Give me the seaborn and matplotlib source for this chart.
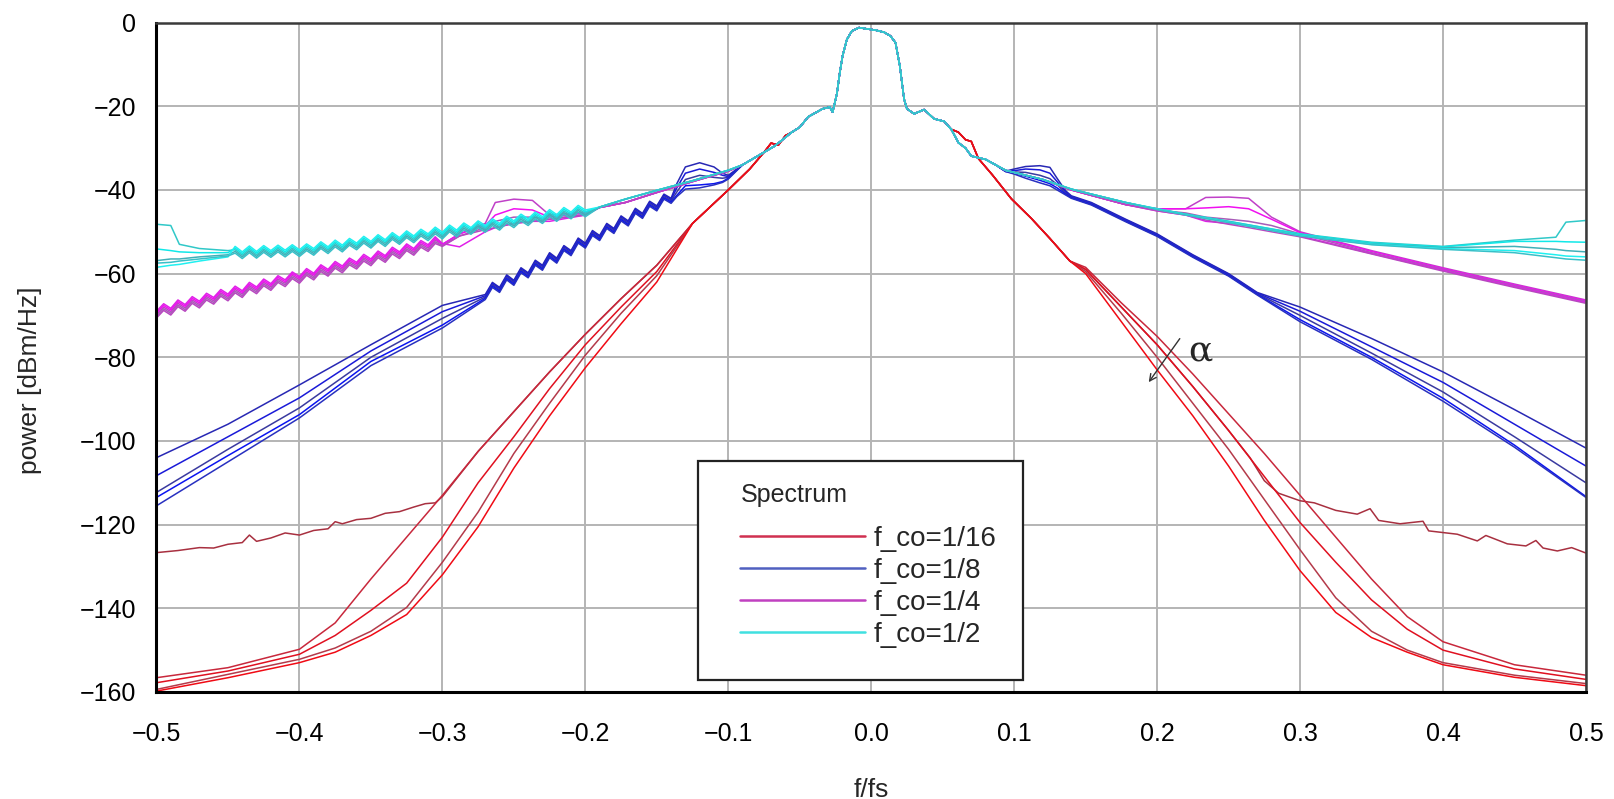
import numpy as np
import pandas as pd
import matplotlib
matplotlib.use("Agg")
import matplotlib.pyplot as plt
import seaborn as sns
from matplotlib.lines import Line2D
from matplotlib.patches import Rectangle
from matplotlib.ticker import MultipleLocator

# ---------------- data ----------------
GROUPS = ["f_co=1/16", "f_co=1/8", "f_co=1/4", "f_co=1/2"]

# main lobe, shared by every curve
CENTER_X = [-0.056, -0.05, -0.044, -0.034, -0.029, -0.027, -0.024, -0.022, -0.02, -0.017,
            -0.0135, -0.0085, -0.003, 0.003, 0.009, 0.0135, 0.017, 0.02, 0.023, 0.025,
            0.03, 0.037, 0.044, 0.051, 0.056]
CENTER_Y = [-26.3, -25.0, -22.5, -20.6, -20.2, -21.4, -17.0, -12.0, -7.9, -4.0,
            -2.0, -1.2, -1.5, -1.8, -2.3, -3.2, -4.8, -10.3, -18.3, -20.6,
            -21.8, -20.8, -23.0, -23.6, -25.5]

# shoulder shared by f_co=1/8, 1/4, 1/2
MID_LX = [-0.09, -0.08, -0.068, -0.062]
MID_LY = [-34.0, -32.0, -29.6, -28.0]
MID_RX = [0.061, 0.066, 0.07, 0.08, 0.087]
MID_RY = [-28.7, -30.0, -31.9, -32.7, -34.0]

# f_co = 1/16 (red): four steep curves + one with a noise floor
RED_LEFT_X = [-0.5, -0.45, -0.4, -0.375, -0.35, -0.325, -0.3, -0.275, -0.25, -0.225, -0.2, -0.175, -0.15]
RED_LEFT_Y = [
    [-156.6, -154.2, -149.8, -143.5, -133.0, -123.0, -113.0, -102.5, -93.0, -83.5, -74.5, -66.0, -58.0],
    [-157.8, -155.0, -151.0, -146.5, -140.5, -134.0, -123.0, -110.0, -99.0, -87.5, -77.0, -68.0, -59.5],
    [-159.4, -155.8, -152.2, -149.5, -145.5, -139.8, -129.0, -117.0, -103.0, -91.0, -79.5, -69.5, -60.5],
    [-159.8, -156.6, -153.0, -150.5, -146.5, -141.5, -132.0, -120.5, -106.5, -94.0, -82.5, -72.0, -62.0],
]
RED_MID_LX = [-0.125, -0.1, -0.085, -0.075, -0.07, -0.065, -0.06]
RED_MID_LY = [-48.0, -40.0, -35.0, -31.0, -28.8, -29.3, -27.0]
RED_MID_RX = [0.061, 0.066, 0.07, 0.075, 0.085, 0.098, 0.112, 0.125, 0.139]
RED_MID_RY = [-26.2, -28.0, -28.4, -32.5, -36.5, -42.1, -46.8, -51.6, -57.0]
RED_RIGHT_X = [0.15, 0.175, 0.2, 0.225, 0.25, 0.275, 0.3, 0.325, 0.35, 0.375, 0.4, 0.45, 0.5]
RED_RIGHT_Y = [
    [-58.5, -67.0, -75.0, -84.0, -93.5, -103.0, -113.0, -123.0, -133.0, -142.0, -148.0, -153.5, -156.0],
    [-59.0, -68.0, -77.0, -87.0, -97.5, -108.5, -119.5, -129.0, -138.0, -145.0, -150.0, -154.5, -157.0],
    [-59.5, -69.5, -80.0, -91.0, -102.0, -114.0, -126.0, -137.5, -145.5, -150.0, -153.0, -156.0, -158.0],
    [-60.0, -71.5, -83.0, -94.0, -106.0, -119.0, -131.0, -141.0, -147.0, -150.5, -153.5, -156.5, -158.5],
]
# the floored curve: its own noisy tails, steep part as curves 0 (left) and 1 (right)
RED_FLOOR_LX = [-0.5, -0.485, -0.47, -0.46, -0.45, -0.44, -0.435, -0.43, -0.42, -0.41, -0.4,
                -0.39, -0.38, -0.375, -0.37, -0.36, -0.35, -0.34, -0.33, -0.32, -0.312, -0.305, -0.3]
RED_FLOOR_LY = [-126.7, -126.2, -125.5, -125.6, -124.7, -124.3, -122.5, -124.0, -123.2, -122.0, -122.5,
                -121.4, -121.0, -119.3, -119.8, -118.8, -118.5, -117.3, -116.9, -115.8, -115.0, -114.8, -113.3]
RED_FLOOR_RX = [0.265, 0.275, 0.285, 0.3, 0.31, 0.325, 0.34, 0.349, 0.355, 0.37, 0.386, 0.39, 0.41,
                0.424, 0.43, 0.445, 0.458, 0.465, 0.47, 0.48, 0.49, 0.5]
RED_FLOOR_RY = [-104.0, -109.5, -112.5, -114.3, -114.8, -116.6, -117.5, -116.2, -119.0, -119.8, -119.2,
                -121.5, -122.3, -123.9, -122.6, -124.6, -125.1, -123.8, -125.6, -126.3, -125.5, -126.8]

# f_co = 1/8 (blue)
BLUE_LEFT_X = [-0.5, -0.45, -0.4, -0.35, -0.3]
BLUE_LEFT_Y = [
    [-104.0, -96.0, -86.6, -77.0, -67.6],
    [-108.3, -99.0, -89.7, -78.5, -69.1],
    [-112.3, -102.0, -92.1, -80.0, -70.7],
    [-113.5, -103.5, -93.7, -81.0, -72.3],
    [-115.5, -105.0, -94.5, -82.0, -73.0],
]
BLUE_SAW_X = [-0.27, -0.265, -0.26, -0.255, -0.25, -0.245, -0.24, -0.235, -0.23, -0.225,
              -0.22, -0.215, -0.21, -0.205, -0.2, -0.195, -0.19, -0.185, -0.18, -0.175,
              -0.17, -0.165, -0.16, -0.155, -0.15, -0.145, -0.14]
BLUE_SAW_Y = [-65.0, -62.1, -63.3, -60.3, -61.6, -58.6, -59.8, -56.8, -58.0, -55.0,
              -56.3, -53.3, -54.5, -51.5, -52.7, -49.7, -50.9, -48.0, -49.2, -46.2,
              -47.4, -44.4, -45.6, -42.7, -43.8, -41.0, -42.0]
BLUE_SPREAD = [0.0, -0.3, -0.6, -0.9, -1.2]
BLUE_BUMP_LX = [-0.136, -0.13, -0.12, -0.11, -0.104, -0.1]
BLUE_BUMP_LY = [
    [-38.5, -34.5, -33.5, -34.5, -36.0, -36.5],
    [-39.5, -36.0, -35.0, -35.8, -36.5, -36.8],
    [-40.5, -37.5, -36.5, -37.0, -37.2, -37.0],
    [-41.3, -39.0, -38.8, -38.5, -38.0, -37.2],
    [-41.6, -39.8, -39.5, -38.8, -38.2, -37.4],
]
BLUE_BUMP_RX = [0.094, 0.1, 0.108, 0.118, 0.125, 0.13, 0.136]
BLUE_BUMP_RY = [
    [-35.5, -35.0, -34.4, -34.2, -34.6, -37.2, -40.2],
    [-35.5, -35.4, -35.0, -35.2, -36.0, -38.0, -40.5],
    [-35.5, -35.7, -35.8, -36.5, -37.3, -38.7, -40.8],
    [-35.6, -36.0, -36.7, -37.7, -38.5, -39.5, -41.0],
    [-35.6, -36.2, -37.2, -38.3, -39.0, -40.0, -41.2],
]
BLUE_MID_RX = [0.14, 0.154, 0.178, 0.2, 0.225, 0.25, 0.27]
BLUE_MID_RY = [-41.4, -43.0, -47.0, -50.5, -55.5, -60.0, -64.5]
BLUE_RIGHT_X = [0.3, 0.35, 0.4, 0.45, 0.5]
BLUE_RIGHT_Y = [
    [-68.0, -75.5, -83.5, -92.5, -101.7],
    [-69.0, -77.5, -86.0, -96.0, -106.0],
    [-70.0, -79.0, -88.3, -99.0, -110.0],
    [-71.0, -80.0, -89.8, -101.0, -113.3],
    [-71.5, -80.5, -90.5, -101.5, -113.5],
]

# f_co = 1/4 (magenta)
MAG_SAW_X = [-0.5, -0.495, -0.49, -0.485, -0.48, -0.475, -0.47, -0.465, -0.46, -0.455,
             -0.45, -0.445, -0.44, -0.435, -0.43, -0.425, -0.42, -0.415, -0.41, -0.405,
             -0.4, -0.395, -0.39, -0.385, -0.38, -0.375, -0.37, -0.365, -0.36, -0.355,
             -0.35, -0.345, -0.34, -0.335, -0.33, -0.325, -0.32, -0.315, -0.31, -0.305]
MAG_SAW_Y = [-69.8, -68.0, -69.1, -67.1, -68.2, -66.3, -67.4, -65.5, -66.5, -64.6,
             -65.7, -63.8, -64.9, -62.9, -64.0, -62.1, -63.2, -61.3, -62.3, -60.4,
             -61.5, -59.6, -60.7, -58.7, -59.8, -57.9, -59.0, -57.1, -58.1, -56.2,
             -57.3, -55.4, -56.5, -54.5, -55.6, -53.7, -54.8, -52.9, -53.9, -52.0]
MAG_SPREAD = [0.0, 0.4, -0.4, 0.8, -0.8]
MAG_BUMP_LX = [-0.3, -0.288, -0.27, -0.263, -0.25, -0.237, -0.225, -0.2]
MAG_BUMP_LY = [
    [-53.0, -50.5, -48.0, -43.0, -42.2, -42.5, -46.0, -45.3],
    [-53.0, -50.5, -48.5, -46.0, -44.5, -44.8, -46.5, -45.5],
    [-53.3, -51.0, -49.0, -47.5, -46.5, -46.5, -47.0, -45.8],
    [-52.8, -53.6, -50.0, -49.0, -48.0, -47.5, -47.5, -46.0],
    [-53.5, -51.0, -49.5, -49.0, -48.0, -47.5, -47.0, -46.0],
]
CM_LX = [-0.19, -0.172, -0.149, -0.125, -0.1]
MAG_CM_LY = [-44.2, -43.0, -40.5, -38.0, -35.5]
CM_RX = [0.094, 0.12, 0.14, 0.154, 0.178]
MAG_CM_RY = [-35.3, -37.5, -40.0, -41.3, -43.5]
MAG_RIGHT_X = [0.2, 0.22, 0.234, 0.25, 0.264, 0.28, 0.3, 0.35, 0.4, 0.45, 0.5]
MAG_RIGHT_Y = [
    [-44.5, -44.5, -41.8, -41.7, -42.0, -46.5, -50.0, -54.5, -58.6, -62.5, -66.3],
    [-44.5, -44.5, -44.3, -44.0, -44.5, -47.0, -50.2, -54.7, -58.8, -62.7, -66.5],
    [-44.8, -45.5, -46.5, -47.0, -47.5, -48.5, -50.5, -55.0, -59.0, -62.9, -66.7],
    [-45.0, -46.0, -47.5, -48.0, -48.5, -49.5, -51.0, -55.2, -59.2, -63.1, -66.9],
    [-45.0, -46.0, -47.2, -48.2, -49.0, -50.0, -51.2, -55.3, -59.4, -63.3, -67.1],
]

# f_co = 1/2 (cyan)
CYAN_LEFT_X = [-0.5, -0.49, -0.484, -0.47, -0.45]
CYAN_LEFT_Y = [
    [-48.2, -48.5, -53.0, -54.0, -54.5],
    [-54.1, -54.5, -54.8, -55.0, -55.0],
    [-56.9, -56.5, -56.5, -56.0, -55.5],
    [-58.5, -58.0, -57.8, -57.0, -56.0],
    [-57.5, -57.3, -57.0, -56.5, -55.8],
]
CYAN_SAW_X = [-0.445, -0.44, -0.435, -0.43, -0.425, -0.42, -0.415, -0.41, -0.405, -0.4,
              -0.395, -0.39, -0.385, -0.38, -0.375, -0.37, -0.365, -0.36, -0.355, -0.35,
              -0.345, -0.34, -0.335, -0.33, -0.325, -0.32, -0.315, -0.31, -0.305, -0.3,
              -0.295, -0.29, -0.285, -0.28, -0.275, -0.27, -0.265, -0.26, -0.255, -0.25,
              -0.245, -0.24, -0.235, -0.23, -0.225, -0.22, -0.215, -0.21, -0.205, -0.2]
CYAN_SAW_Y = [-54.3, -55.6, -54.2, -55.5, -54.1, -55.3, -54.0, -55.2, -53.9, -55.1,
              -53.7, -54.8, -53.2, -54.4, -52.8, -54.0, -52.4, -53.5, -51.9, -53.1,
              -51.5, -52.7, -51.0, -52.2, -50.6, -51.8, -50.2, -51.3, -49.7, -50.9,
              -49.2, -50.4, -48.7, -49.8, -48.2, -49.3, -47.7, -48.8, -47.1, -48.2,
              -46.6, -47.7, -46.1, -47.2, -45.5, -46.7, -45.0, -46.1, -44.5, -45.6]
CYAN_SPREAD = [0.0, 0.4, -0.4, 0.8, -0.8]
CYAN_CM_LY = [-44.1, -42.2, -40.0, -37.8, -35.3]
CYAN_CM_RY = [-35.3, -37.5, -39.8, -41.0, -43.0]
CYAN_RIGHT_X = [0.2, 0.22, 0.25, 0.3, 0.35, 0.4, 0.45, 0.479, 0.486, 0.5]
CYAN_RIGHT_Y = [
    [-44.5, -45.8, -47.5, -50.5, -52.5, -53.5, -52.0, -51.3, -47.7, -47.3],
    [-44.5, -45.8, -47.5, -50.6, -52.7, -53.6, -52.3, -52.3, -52.4, -52.5],
    [-44.6, -45.8, -47.6, -50.8, -52.9, -53.8, -53.5, -54.2, -54.5, -54.8],
    [-44.6, -45.9, -47.7, -50.9, -53.0, -54.0, -54.5, -55.5, -55.8, -56.0],
    [-44.7, -46.0, -47.8, -51.0, -53.1, -54.2, -55.0, -56.2, -56.5, -56.8],
]

X_TICKS = [-0.5, -0.4, -0.3, -0.2, -0.1, 0.0, 0.1, 0.2, 0.3, 0.4, 0.5]
X_TICK_LABELS = ["\u22120.5", "\u22120.4", "\u22120.3", "\u22120.2", "\u22120.1", "0.0",
                 "0.1", "0.2", "0.3", "0.4", "0.5"]
Y_TICKS = [0, -20, -40, -60, -80, -100, -120, -140, -160]

GROUP_COLORS = {
    "f_co=1/16": ["#c8283c", "#e01020", "#b43a4a", "#f00a14", "#a83040"],
    "f_co=1/8": ["#2828b4", "#1a1ad8", "#3a3aa0", "#0a14f0", "#2830c0"],
    "f_co=1/4": ["#c040c8", "#f010f0", "#a85cb8", "#e020e8", "#b848c0"],
    "f_co=1/2": ["#30c8c8", "#10e8e8", "#40b0b8", "#20f0f0", "#38c0c8"],
}
LEGEND_COLORS = ["#d03050", "#5060c0", "#c040c0", "#40e0e0"]


def shift(values, d):
    return [v + d for v in values]


def build_curves():
    """Assemble every curve from its pieces into one long table"""
    rows = []

    def add(group, i, xs, ys):
        assert len(xs) == len(ys)
        for x, y in zip(xs, ys):
            rows.append((group, f"{group}#{i}", x, y))

    red_mid = RED_MID_LX + CENTER_X + RED_MID_RX
    red_mid_y = RED_MID_LY + CENTER_Y + RED_MID_RY
    # floored curve first, so the steep ones sit on top of it
    add(GROUPS[0], 4,
        RED_FLOOR_LX + RED_LEFT_X[7:] + red_mid + RED_RIGHT_X[:5] + RED_FLOOR_RX,
        RED_FLOOR_LY + RED_LEFT_Y[0][7:] + red_mid_y + RED_RIGHT_Y[1][:5] + RED_FLOOR_RY)
    for i in range(4):
        add(GROUPS[0], i, RED_LEFT_X + red_mid + RED_RIGHT_X,
            RED_LEFT_Y[i] + red_mid_y + RED_RIGHT_Y[i])
    for i in range(5):
        add(GROUPS[1], i,
            BLUE_LEFT_X + BLUE_SAW_X + BLUE_BUMP_LX + MID_LX + CENTER_X + MID_RX
            + BLUE_BUMP_RX + BLUE_MID_RX + BLUE_RIGHT_X,
            BLUE_LEFT_Y[i] + shift(BLUE_SAW_Y, BLUE_SPREAD[i]) + BLUE_BUMP_LY[i] + MID_LY
            + CENTER_Y + MID_RY + BLUE_BUMP_RY[i] + shift(BLUE_MID_RY, BLUE_SPREAD[i] / 2)
            + BLUE_RIGHT_Y[i])
    for i in range(5):
        add(GROUPS[2], i,
            MAG_SAW_X + MAG_BUMP_LX + CM_LX + MID_LX + CENTER_X + MID_RX + CM_RX + MAG_RIGHT_X,
            shift(MAG_SAW_Y, MAG_SPREAD[i]) + MAG_BUMP_LY[i] + MAG_CM_LY + MID_LY + CENTER_Y
            + MID_RY + MAG_CM_RY + MAG_RIGHT_Y[i])
    for i in range(5):
        add(GROUPS[3], i,
            CYAN_LEFT_X + CYAN_SAW_X + CM_LX + MID_LX + CENTER_X + MID_RX + CM_RX + CYAN_RIGHT_X,
            CYAN_LEFT_Y[i] + shift(CYAN_SAW_Y, CYAN_SPREAD[i]) + CYAN_CM_LY + MID_LY + CENTER_Y
            + MID_RY + CYAN_CM_RY + CYAN_RIGHT_Y[i])

    return pd.DataFrame(rows, columns=["group", "curve", "f", "power"])


def main():
    sns.set_theme(style="white")
    plt.rcParams["font.family"] = ["Liberation Sans", "DejaVu Sans"]
    plt.rcParams["axes.unicode_minus"] = True

    df = build_curves()
    curve_order = list(dict.fromkeys(df["curve"]))
    palette = {}
    for g in GROUPS:
        for i in range(5):
            palette[f"{g}#{i}"] = GROUP_COLORS[g][i]

    fig = plt.figure(figsize=(16.15, 7.99), dpi=100)
    ax = fig.add_axes([0.0969, 0.134, 0.8851, 0.8377])

    sns.lineplot(data=df, x="f", y="power", hue="curve", hue_order=curve_order,
                 palette=palette, estimator=None, sort=False, legend=False,
                 linewidth=1.1, ax=ax)

    ax.set_xlim(-0.5, 0.5)
    ax.set_ylim(-160, 0)
    ax.set_xticks(X_TICKS)
    ax.set_xticklabels(X_TICK_LABELS)
    ax.set_yticks(Y_TICKS)
    ax.xaxis.set_minor_locator(MultipleLocator(0.02))
    ax.yaxis.set_minor_locator(MultipleLocator(10))
    ax.grid(True, which="major", color="#b4b4b4", lw=1.4)
    ax.set_axisbelow(True)

    for side in ["left", "bottom"]:
        ax.spines[side].set_color("black")
        ax.spines[side].set_linewidth(2.2)
    for side in ["top", "right"]:
        ax.spines[side].set_color("#3a3a3a")
        ax.spines[side].set_linewidth(1.8)

    ax.tick_params(which="major", direction="out", length=13, width=1.4, labelsize=18, colors="black")
    ax.tick_params(which="minor", direction="out", length=6.5, width=1.4, colors="black")
    ax.tick_params(axis="x", which="major", pad=9)
    ax.tick_params(axis="y", which="major", pad=1.5)
    ax.tick_params(top=False, right=False, which="both")

    ax.set_xlabel("f/fs", fontsize=19)
    ax.set_ylabel("power [dBm/Hz]", fontsize=19)
    ax.xaxis.set_label_coords(0.5, -0.128)
    ax.yaxis.set_label_coords(-0.080, 0.465)

    # legend box with its title and entries
    ax.add_patch(Rectangle((0.379, 0.018), 0.227, 0.327, transform=ax.transAxes,
                           facecolor="white", edgecolor="#222222", lw=1.6, zorder=4))
    ax.text(0.4085, 0.2935, "Spectrum", transform=ax.transAxes, fontsize=18,
            ha="left", va="center", zorder=5)
    handles = [Line2D([], [], color=c, lw=1.8) for c in LEGEND_COLORS]
    leg = ax.legend(handles, GROUPS, loc="upper left", bbox_to_anchor=(0.4085, 0.2485),
                    frameon=False, fontsize=20, handlelength=4.5, handletextpad=0.3,
                    labelspacing=0.22, borderpad=0, borderaxespad=0)
    leg.set_zorder(5)

    # alpha arrow
    ax.annotate("", xy=(0.193, -86.5), xytext=(0.217, -75.0),
                arrowprops=dict(arrowstyle="->", color="#333333", lw=1.0))
    ax.text(0.222, -78.5, "α", fontsize=26, family="DejaVu Serif", va="center", ha="left")

    fig.savefig("out.png", dpi=100)
    plt.close(fig)


if __name__ == "__main__":
    main()
